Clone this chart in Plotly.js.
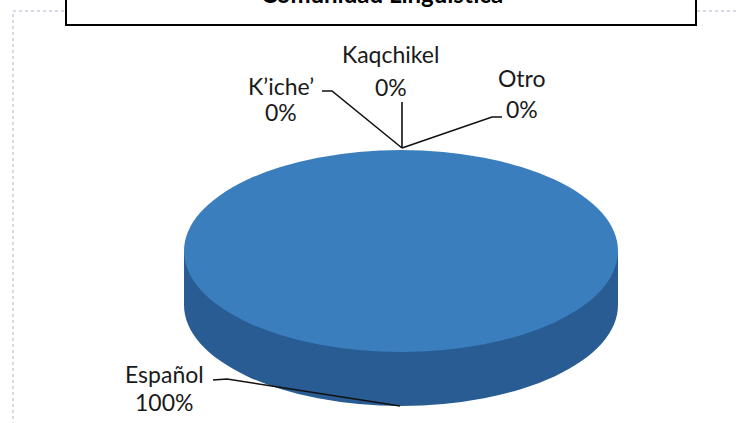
<!DOCTYPE html>
<html><head><meta charset="utf-8">
<script src="https://cdn.plot.ly/plotly-3.0.1.min.js"></script>
<style>html,body{margin:0;padding:0;background:#fff;overflow:hidden}</style>
</head><body><div id="chart" style="width:739px;height:423px"></div>
<script>
// ---- data ----
const titleText = "Comunidad Lingüística";
const labels = ["K’iche’", "Kaqchikel", "Otro", "Español"];
const values = [0, 0, 0, 100];

// ---- styles / layout constants ----
const W = 739, H = 423;
const topColor = "#3b7ebe", sideColor = "#285c93";
const FONT = "Lato, 'Noto Sans', sans-serif";
const ellipse = {cx: 401, cy: 251, rx: 217, ry: 101, depth: 54};
// label anchor positions (px): name centre, value centre
const labelPos = {
  "K’iche’":  {x: 281, yName: 86,  yVal: 112, leader: [[322,91],[332,91],[402,148]]},
  "Kaqchikel":{x: 391, yName: 54,  yVal: 87,  leader: [[402,102],[402,148]]},
  "Otro":     {x: 522, yName: 78,  yVal: 109, leader: [[402,148],[492,117],[502,117]]},
  "Español":  {x: 164, yName: 374, yVal: 402, leader: [[213,380],[227,379],[400,406]]}
};

const px = x => x / W, py = y => 1 - y / H;
const total = values.reduce((a, b) => a + b, 0);
const pct = values.map(v => Math.round(v / total * 100) + "%");

const pieBase = {
  type: "pie", labels: labels, values: values, sort: false, direction: "clockwise",
  textinfo: "none", hoverinfo: "skip", showlegend: false,
  domain: {x: [0, 1], y: [0, 1]}
};
const data = [
  Object.assign({}, pieBase, {name: "side", marker: {colors: labels.map(() => sideColor), line: {width: 0}}}),
  Object.assign({}, pieBase, {name: "top",  marker: {colors: labels.map(() => topColor), line: {width: 0}}})
];

const annotations = [];
const shapes = [];
// dotted chart border
shapes.push({type: "rect", xref: "paper", yref: "paper", x0: px(13), x1: px(760), y0: py(11), y1: py(440),
  line: {color: "#b4b4cc", width: 1, dash: "dot"}, layer: "below"});
// side band of the cylinder
shapes.push({type: "rect", xref: "paper", yref: "paper",
  x0: px(ellipse.cx - ellipse.rx), x1: px(ellipse.cx + ellipse.rx),
  y0: py(ellipse.cy), y1: py(ellipse.cy + ellipse.depth),
  fillcolor: sideColor, line: {width: 0}, layer: "below"});
// title box
shapes.push({type: "rect", xref: "paper", yref: "paper", x0: px(66), x1: px(696), y0: py(-20), y1: py(25),
  fillcolor: "#ffffff", line: {color: "#000", width: 2}, layer: "above"});
annotations.push({xref: "paper", yref: "paper", x: px(382), y: py(-6), text: "<b>" + titleText + "</b>",
  showarrow: false, xanchor: "center", yanchor: "middle", font: {family: FONT, size: 24, color: "#000"}});

labels.forEach((lab, i) => {
  const p = labelPos[lab];
  annotations.push({xref: "paper", yref: "paper", x: px(p.x), y: py(p.yName), text: lab, showarrow: false,
    xanchor: "center", yanchor: "middle", font: {family: FONT, size: 23, color: "#1a1a1a"}});
  annotations.push({xref: "paper", yref: "paper", x: px(p.x), y: py(p.yVal), text: pct[i], showarrow: false,
    xanchor: "center", yanchor: "middle", font: {family: FONT, size: 23, color: "#1a1a1a"}});
  const d = p.leader.map((pt, k) => (k ? "L" : "M") + px(pt[0]) + "," + py(pt[1])).join(" ");
  shapes.push({type: "path", xref: "paper", yref: "paper", path: d, line: {color: "#111", width: 1.6}, layer: "above"});
});

const layout = {
  width: W, height: H, margin: {l: 0, r: 0, t: 0, b: 0, pad: 0},
  paper_bgcolor: "#fff", plot_bgcolor: "#fff", showlegend: false,
  shapes: shapes, annotations: annotations
};

Plotly.newPlot("chart", data, layout, {staticPlot: true, displayModeBar: false}).then(gd => {
  // turn the circular pies into the tilted ellipses of the 3-D chart
  const groups = gd.querySelectorAll(".pielayer g.trace");
  const targets = [{cx: ellipse.cx, cy: ellipse.cy + ellipse.depth}, {cx: ellipse.cx, cy: ellipse.cy}];
  groups.forEach((g, i) => {
    const bb = g.getBBox();
    const t = targets[i];
    g.setAttribute("transform",
      `translate(${t.cx},${t.cy}) scale(${2 * ellipse.rx / bb.width},${2 * ellipse.ry / bb.height}) translate(${-(bb.x + bb.width / 2)},${-(bb.y + bb.height / 2)})`);
  });
});
</script></body></html>
